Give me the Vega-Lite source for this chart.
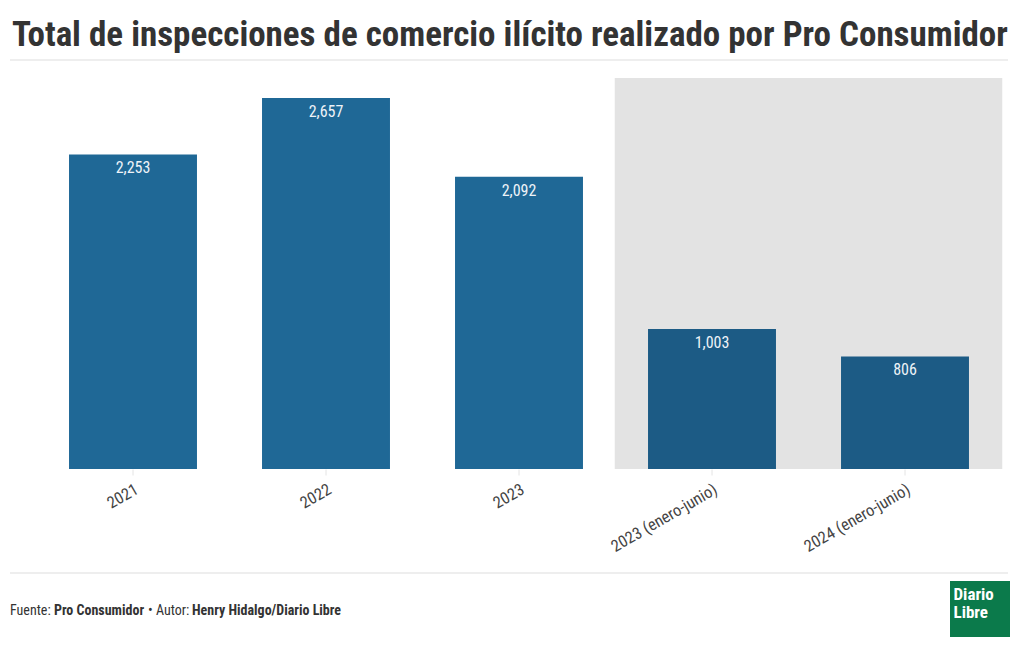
{
  "$schema": "https://vega.github.io/schema/vega-lite/v6.json",
  "autosize": "none",
  "width": 965,
  "height": 391,
  "padding": {"left": 36.5, "top": 78, "right": 18.5, "bottom": 181},
  "background": "white",
  "config": {
    "view": {"stroke": null},
    "font": "Roboto Condensed, Liberation Sans Narrow, DejaVu Sans Condensed, Roboto, sans-serif"
  },
  "title": {
    "text": "Total de inspecciones de comercio ilícito realizado por Pro Consumidor",
    "anchor": "start",
    "frame": "group",
    "dx": -24.5,
    "offset": 7,
    "fontSize": 35,
    "fontWeight": "bold",
    "color": "#333333",
    "font": "Roboto Condensed, Liberation Sans Narrow, DejaVu Sans Condensed, Roboto, sans-serif"
  },
  "datasets": {
    "bars": [
      {"periodo": "2021", "inspecciones": 2253, "grupo": "anual"},
      {"periodo": "2022", "inspecciones": 2657, "grupo": "anual"},
      {"periodo": "2023", "inspecciones": 2092, "grupo": "anual"},
      {"periodo": "2023 (enero-junio)", "inspecciones": 1003, "grupo": "semestral"},
      {"periodo": "2024 (enero-junio)", "inspecciones": 806, "grupo": "semestral"}
    ],
    "shade": [
      {"periodo": "2023 (enero-junio)"},
      {"periodo": "2024 (enero-junio)"}
    ],
    "footer": [
      {"t": "Fuente:", "part": "a", "fila": "pie"},
      {"t": "Pro Consumidor", "part": "b", "fila": "pie"},
      {"t": "• Autor:", "part": "c", "fila": "pie"},
      {"t": "Henry Hidalgo/Diario Libre", "part": "d", "fila": "pie"}
    ],
    "logo": [
      {"t": "Diario", "r": "1"},
      {"t": "Libre", "r": "2"}
    ]
  },
  "resolve": {"scale": {"x": "independent", "y": "independent"}, "axis": {"x": "independent", "y": "independent"}},
  "layer": [
    {
      "data": {"name": "shade"},
      "mark": {"type": "bar", "color": "#e3e3e3", "width": {"band": 1.52}},
      "encoding": {
        "x": {
          "field": "periodo", "type": "nominal",
          "scale": {
            "domain": ["2021", "2022", "2023", "2023 (enero-junio)", "2024 (enero-junio)"],
            "paddingInner": 0.337,
            "paddingOuter": 0.1685
          },
          "axis": null
        },
        "y": {"datum": 2800, "type": "quantitative", "scale": {"domain": [0, 2800], "nice": false}, "axis": null},
        "y2": {"datum": 0}
      }
    },
    {
      "data": {"name": "bars"},
      "mark": {"type": "bar"},
      "encoding": {
        "x": {
          "field": "periodo",
          "type": "nominal",
          "sort": null,
          "scale": {
            "domain": ["2021", "2022", "2023", "2023 (enero-junio)", "2024 (enero-junio)"],
            "paddingInner": 0.337,
            "paddingOuter": 0.1685
          },
          "axis": {
            "title": null,
            "labelAngle": -30,
            "labelFontSize": 16.5,
            "labelColor": "#444444",
            "labelPadding": 6,
            "domain": false,
            "ticks": true,
            "tickColor": "#e4e4e4",
            "tickSize": 6
          }
        },
        "y": {
          "field": "inspecciones",
          "type": "quantitative",
          "scale": {"domain": [0, 2800], "nice": false},
          "axis": null
        },
        "color": {
          "field": "grupo",
          "type": "nominal",
          "scale": {"domain": ["anual", "semestral"], "range": ["#1f6896", "#1c5b85"]},
          "legend": null
        }
      }
    },
    {
      "data": {"name": "bars"},
      "mark": {"type": "text", "baseline": "alphabetic", "dy": 19, "fontSize": 16, "color": "#eef3f8"},
      "encoding": {
        "x": {
          "field": "periodo", "type": "nominal",
          "scale": {
            "domain": ["2021", "2022", "2023", "2023 (enero-junio)", "2024 (enero-junio)"],
            "paddingInner": 0.337,
            "paddingOuter": 0.1685
          },
          "axis": null
        },
        "y": {"field": "inspecciones", "type": "quantitative", "scale": {"domain": [0, 2800], "nice": false}, "axis": null},
        "text": {"field": "inspecciones", "type": "quantitative", "format": ","}
      }
    },
    {
      "data": {"values": [{}]},
      "mark": {"type": "rule", "color": "#dddddd", "strokeWidth": 1},
      "encoding": {"x": {"value": -26.5}, "x2": {"value": 971.5}, "y": {"value": -18}}
    },
    {
      "data": {"values": [{}]},
      "mark": {"type": "rule", "color": "#dddddd", "strokeWidth": 1},
      "encoding": {"x": {"value": -26.5}, "x2": {"value": 971.5}, "y": {"value": 495}}
    },
    {
      "data": {"name": "footer"},
      "transform": [{"filter": "datum.part == 'a'"}],
      "mark": {"type": "text", "align": "left", "baseline": "alphabetic", "fontSize": 14, "color": "#333333"},
      "encoding": {
        "x": {"value": -26.5},
        "y": {"field": "fila", "type": "nominal", "scale": {"type": "point", "domain": ["pie"], "range": [536.5, 536.5]}, "axis": null},
        "text": {"field": "t", "type": "nominal"}
      }
    },
    {
      "data": {"name": "footer"},
      "transform": [{"filter": "datum.part == 'b'"}],
      "mark": {"type": "text", "align": "left", "baseline": "alphabetic", "fontSize": 14, "fontWeight": "bold", "color": "#333333"},
      "encoding": {
        "x": {"value": 17.5},
        "y": {"field": "fila", "type": "nominal", "scale": {"type": "point", "domain": ["pie"], "range": [536.5, 536.5]}, "axis": null},
        "text": {"field": "t", "type": "nominal"}
      }
    },
    {
      "data": {"name": "footer"},
      "transform": [{"filter": "datum.part == 'c'"}],
      "mark": {"type": "text", "align": "left", "baseline": "alphabetic", "fontSize": 14, "color": "#333333"},
      "encoding": {
        "x": {"value": 111.5},
        "y": {"field": "fila", "type": "nominal", "scale": {"type": "point", "domain": ["pie"], "range": [536.5, 536.5]}, "axis": null},
        "text": {"field": "t", "type": "nominal"}
      }
    },
    {
      "data": {"name": "footer"},
      "transform": [{"filter": "datum.part == 'd'"}],
      "mark": {"type": "text", "align": "left", "baseline": "alphabetic", "fontSize": 14, "fontWeight": "bold", "color": "#333333"},
      "encoding": {
        "x": {"value": 155.5},
        "y": {"field": "fila", "type": "nominal", "scale": {"type": "point", "domain": ["pie"], "range": [536.5, 536.5]}, "axis": null},
        "text": {"field": "t", "type": "nominal"}
      }
    },
    {
      "data": {"values": [{}]},
      "mark": {"type": "rect", "color": "#0b7a4b"},
      "encoding": {"x": {"value": 913.5}, "x2": {"value": 973.5}, "y": {"value": 503}, "y2": {"value": 559}}
    },
    {
      "data": {"name": "logo"},
      "mark": {"type": "text", "align": "left", "baseline": "alphabetic", "fontSize": 17, "fontWeight": "bold", "color": "#ffffff"},
      "encoding": {
        "x": {"value": 917},
        "y": {"field": "r", "type": "nominal", "scale": {"type": "point", "padding": 0, "domain": ["1", "2"], "range": [522, 540]}, "axis": null},
        "text": {"field": "t", "type": "nominal"}
      }
    }
  ]
}
